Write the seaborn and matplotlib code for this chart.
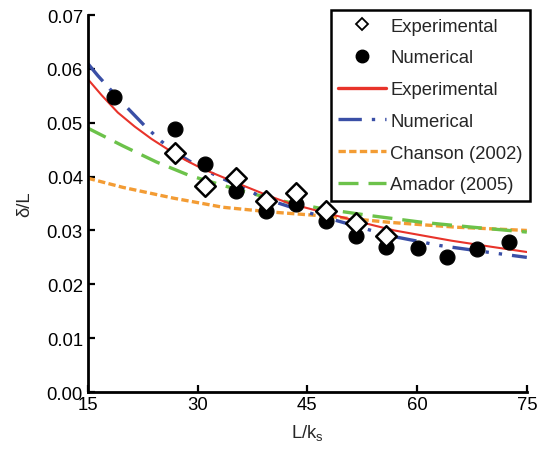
import numpy as np
import matplotlib
matplotlib.use("Agg")
import matplotlib.pyplot as plt
from matplotlib.lines import Line2D
import seaborn as sns

# measured points
exp_x = [26.9, 31.0, 35.2, 39.3, 43.4, 47.5, 51.7, 55.7]
exp_y = [0.0443, 0.0383, 0.0397, 0.0355, 0.0369, 0.0337, 0.0313, 0.0289]

num_x = [18.6, 26.9, 31.0, 35.2, 39.3, 43.4, 47.6, 51.7, 55.8, 60.1, 64.1, 68.2, 72.5]
num_y = [0.0547, 0.0488, 0.0423, 0.0373, 0.0336, 0.0349, 0.0318, 0.0290, 0.0270,
         0.0267, 0.0250, 0.0265, 0.0278]

# fitted curves
exp_fit_x = [15.0, 16.9, 19.1, 21.4, 23.7, 26.0, 28.3, 30.6, 32.9, 35.2, 39.4,
             42.6, 47.1, 53.9, 56.9, 64.7, 70.0, 75.0]
exp_fit_y = [0.0581, 0.0551, 0.0519, 0.0493, 0.0470, 0.0450, 0.0431, 0.0415,
             0.0402, 0.0389, 0.0366, 0.0350, 0.0334, 0.0310, 0.0300, 0.0281,
             0.0270, 0.0260]

num_fit_x = [15.0, 16.4, 18.0, 20.1, 22.8, 25.1, 27.3, 29.6, 32.8, 35.3, 39.4,
             44.9, 51.7, 56.3, 63.1, 70.0, 75.0]
num_fit_y = [0.0610, 0.0587, 0.0563, 0.0532, 0.0494, 0.0465, 0.0442, 0.0423,
             0.0400, 0.0385, 0.0358, 0.0334, 0.0308, 0.0290, 0.0272, 0.0259,
             0.0250]

chanson_x = [15.0, 19.8, 26.7, 33.5, 40.3, 47.2, 56.3, 65.4, 75.0]
chanson_y = [0.0397, 0.0380, 0.0360, 0.0343, 0.0334, 0.0327, 0.0315, 0.0306, 0.0300]

amador_x = [15.0, 19.8, 24.4, 28.9, 34.4, 40.3, 47.2, 53.9, 60.8, 67.6, 75.0]
amador_y = [0.0490, 0.0457, 0.0427, 0.0402, 0.0380, 0.0358, 0.0340, 0.0327,
            0.0315, 0.0306, 0.0297]

x_ticks = [15, 30, 45, 60, 75]
y_ticks = [0.00, 0.01, 0.02, 0.03, 0.04, 0.05, 0.06, 0.07]

red = "#e8332a"
blue = "#3a4fa6"
orange = "#f39c34"
green = "#6cc24a"

sns.set_style("ticks")
plt.rcParams["font.family"] = ["Liberation Sans", "DejaVu Sans"]
plt.rcParams["mathtext.fontset"] = "custom"
plt.rcParams["mathtext.rm"] = "Liberation Sans"
plt.rcParams["mathtext.it"] = "Liberation Sans"

fig = plt.figure(figsize=(5.42, 4.52), dpi=100)
ax = fig.add_axes([0.162, 0.1305, 0.810, 0.834])

chanson_ls = (0, (2.2, 1.0))
amador_ls = (0, (6, 3))
num_ls = (0, (7, 3, 1, 3, 1, 3))

sns.lineplot(x=chanson_x, y=chanson_y, ax=ax, color=orange, lw=2.4, linestyle=chanson_ls)
sns.lineplot(x=amador_x, y=amador_y, ax=ax, color=green, lw=2.4, linestyle=amador_ls)
sns.lineplot(x=num_fit_x, y=num_fit_y, ax=ax, color=blue, lw=2.4, linestyle=num_ls)
sns.lineplot(x=exp_fit_x, y=exp_fit_y, ax=ax, color=red, lw=1.5)

sns.scatterplot(x=num_x, y=num_y, ax=ax, marker="o", s=115, color="black",
                edgecolor="black", zorder=5)
sns.scatterplot(x=exp_x, y=exp_y, ax=ax, marker="D", s=110, facecolor="white",
                edgecolor="black", linewidth=1.8, zorder=6)

ax.set_xlim(15, 75)
ax.set_ylim(0, 0.07)
ax.set_xticks(x_ticks)
ax.set_yticks(y_ticks)
ax.set_yticklabels([f"{v:.2f}" for v in y_ticks])
ax.tick_params(direction="in", length=5, width=1.6, labelsize=13.3, colors="black")
ax.tick_params(axis="x", pad=3)
for side in ["top", "right"]:
    ax.spines[side].set_visible(False)
for side in ["left", "bottom"]:
    ax.spines[side].set_linewidth(2)
    ax.spines[side].set_color("black")

ax.set_xlabel("L/k$_{\\mathregular{s}}$", fontsize=13.3, labelpad=6)
ax.set_ylabel("δ/L", fontsize=13.3, labelpad=10)

handles = [
    Line2D([], [], ls="none", marker="D", ms=6, mfc="white", mec="black", mew=1.3),
    Line2D([], [], ls="none", marker="o", ms=9, mfc="black", mec="black"),
    Line2D([], [], color=red, lw=2.4),
    Line2D([], [], color=blue, lw=2.4, ls=num_ls),
    Line2D([], [], color=orange, lw=2.4, ls=chanson_ls),
    Line2D([], [], color=green, lw=2.4, ls=amador_ls),
]
labels = ["Experimental", "Numerical", "Experimental", "Numerical",
          "Chanson (2002)", "Amador (2005)"]
leg = ax.legend(handles, labels, loc="upper right", bbox_to_anchor=(1.007, 1.013),
                borderaxespad=0, fontsize=13.3, handlelength=2.6, handletextpad=0.2,
                labelspacing=0.8, borderpad=0.4, fancybox=False, framealpha=1,
                edgecolor="black")
leg.get_frame().set_linewidth(1.8)
leg.set_zorder(10)

fig.savefig("out.png", dpi=100)
